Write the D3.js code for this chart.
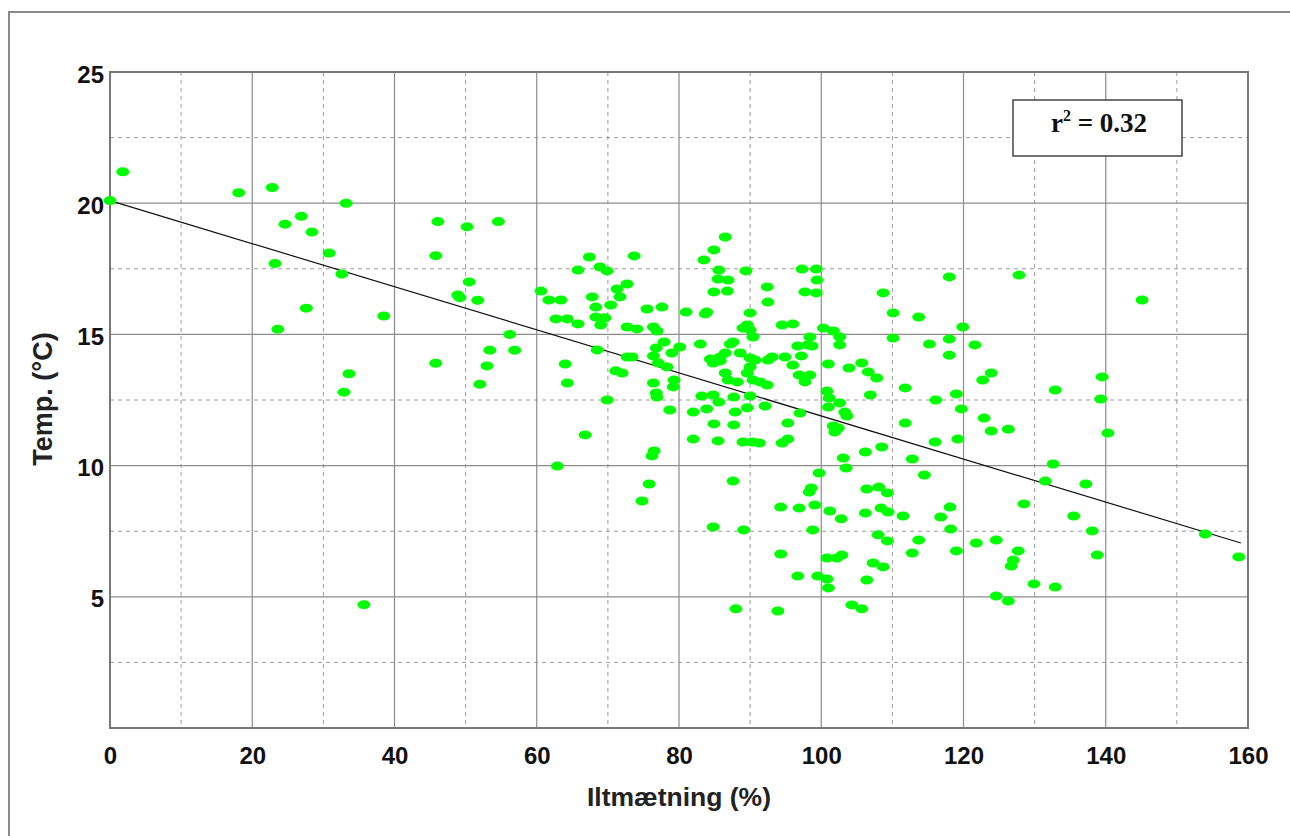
<!DOCTYPE html>
<html>
<head>
<meta charset="utf-8">
<script src="https://cdn.jsdelivr.net/npm/d3@7"></script>
<style>
  html, body { margin: 0; padding: 0; background: #fff; }
  svg { display: block; }
</style>
</head>
<body>
<svg id="chart" width="1290" height="836"></svg>
<script>
// ---- data ----
const xTicks = [0, 20, 40, 60, 80, 100, 120, 140, 160];
const xMinorTicks = [10, 30, 50, 70, 90, 110, 130, 150];
const yTicks = [5, 10, 15, 20, 25];
const yMinorTicks = [2.5, 7.5, 12.5, 17.5, 22.5];
const xTitle = "Iltmætning (%)";
const yTitle = "Temp. (°C)";
const rSquared = "0.32";
// regression line end points [Iltmætning, Temp]
const fitLine = [[0, 20.1], [159, 7.05]];
// samples: [Iltmætning %, Temp °C]
const samples = [
  [0,20.1],[1.8,21.2],[18.1,20.4],[22.8,20.6],[33.2,20.0],[26.9,19.5],[24.6,19.2],[28.4,18.9],[30.8,18.1],[23.2,17.7],
  [32.6,17.3],[46.1,19.3],[50.2,19.1],[54.6,19.3],[45.8,18.0],[50.5,17.0],[48.9,16.5],[49.2,16.4],[51.7,16.3],[27.6,16.0],
  [23.6,15.2],[38.5,15.7],[56.2,15.0],[53.4,14.4],[56.9,14.4],[45.8,13.9],[53.0,13.8],[52.0,13.1],[33.6,13.5],[32.9,12.8],
  [35.7,4.7],
  [60.6,16.65],[61.7,16.31],[63.4,16.31],[62.7,15.59],[64.3,15.59],[65.8,15.40],[67.4,17.95],[65.8,17.45],[68.9,17.57],[69.9,17.42],
  [67.8,16.43],[71.3,16.73],[72.7,16.92],[71.7,16.43],[68.3,16.04],[70.4,16.12],[68.3,15.66],[69.6,15.63],[69.0,15.36],[72.7,15.28],
  [74.1,15.21],[73.7,17.99],[75.5,15.97],[77.6,16.04],[81.0,15.85],[76.4,15.28],[76.9,15.13],[77.9,14.71],[76.8,14.48],[80.1,14.52],
  [79.0,14.29],[76.4,14.18],[77.1,13.91],[78.3,13.76],[68.5,14.41],[64.0,13.87],[64.3,13.15],[69.9,12.50],[71.1,13.61],[72.0,13.53],
  [72.7,14.14],[73.4,14.14],[76.4,13.15],[76.8,12.77],[76.9,12.61],[79.3,13.26],[79.2,13.00],[78.7,12.12],[82.0,12.04],[66.8,11.17],
  [62.9,9.98],[82.0,11.01],[76.5,10.56],[76.2,10.37],[75.8,9.30],[74.8,8.65],
  [83.5,17.84],[84.9,18.22],[86.5,18.71],[85.6,17.45],[85.5,17.11],[86.9,17.07],[84.9,16.62],[86.8,16.65],[89.4,17.42],[92.4,16.81],
  [92.5,16.23],[83.9,15.85],[83.7,15.78],[90.0,15.82],[89.6,15.36],[90.0,15.17],[90.4,14.90],[89.0,15.24],[87.6,14.71],[87.2,14.63],
  [83.0,14.63],[88.6,14.29],[90.0,14.10],[90.7,14.02],[93.1,14.14],[92.5,14.02],[86.5,14.29],[85.8,14.14],[84.4,14.06],[84.8,13.91],
  [85.8,13.99],[86.5,13.53],[86.9,13.26],[88.2,13.19],[89.6,13.53],[90.0,13.76],[90.4,13.26],[91.4,13.19],[92.4,13.07],[83.2,12.65],
  [84.8,12.69],[85.6,12.42],[83.9,12.16],[87.7,12.61],[87.9,12.04],[90.0,12.65],[89.6,12.20],[92.1,12.27],[84.9,11.59],[87.7,11.55],
  [85.5,10.94],[89.0,10.90],[90.3,10.90],[91.3,10.86],[87.6,9.41],[84.8,7.66],[89.1,7.55],[88.0,4.54],[93.9,4.46],
  [94.5,15.36],[96.0,15.40],[97.3,17.49],[99.3,17.49],[99.4,17.07],[97.7,16.62],[99.3,16.58],[94.9,14.14],[96.0,13.83],[97.2,14.18],
  [96.9,13.45],[97.6,13.38],[98.4,13.45],[97.7,13.19],[96.7,14.56],[98.4,14.90],[98.1,14.60],[98.7,14.56],[100.3,15.24],[101.7,15.13],
  [102.6,14.90],[102.6,14.60],[101.0,13.87],[103.9,13.72],[105.7,13.91],[106.6,13.57],[107.8,13.34],[108.7,16.58],[110.1,15.82],[110.1,14.86],
  [100.8,12.84],[101.1,12.58],[101.0,12.23],[102.6,12.39],[103.3,12.04],[103.6,11.89],[106.9,12.69],[97.0,12.00],[95.3,11.62],[94.5,10.86],
  [95.3,11.01],[101.7,11.51],[102.4,11.43],[101.9,11.28],[106.2,10.52],[108.5,10.71],[103.1,10.29],[103.5,9.91],[99.7,9.72],[98.6,9.15],
  [98.3,8.99],[106.4,9.11],[108.1,9.18],[109.3,8.96],[94.3,8.42],[96.9,8.38],[99.1,8.50],[101.2,8.27],[102.8,7.97],[98.8,7.55],
  [106.2,8.19],[108.4,8.38],[109.4,8.23],[108.0,7.36],[109.3,7.13],[94.3,6.63],[100.8,6.48],[102.2,6.48],[102.9,6.59],[96.7,5.79],
  [99.5,5.79],[100.8,5.68],[101.0,5.34],[106.4,5.64],[107.3,6.29],[108.7,6.14],[104.3,4.69],[105.7,4.54],
  [113.7,15.66],[119.9,15.28],[115.2,14.63],[118.0,14.82],[121.6,14.60],[118.0,14.21],[118.0,17.19],[127.8,17.26],[145.1,16.31],[111.8,12.96],
  [116.1,12.50],[119.0,12.73],[119.7,12.16],[123.9,13.53],[122.7,13.26],[132.9,12.88],[139.5,13.38],[139.3,12.54],[140.3,11.24],[111.8,11.62],
  [116.0,10.90],[119.2,11.01],[122.9,11.81],[123.9,11.32],[126.3,11.39],[112.8,10.25],[114.5,9.64],[132.6,10.06],[131.5,9.41],[137.2,9.30],
  [128.5,8.54],[111.5,8.08],[118.1,8.42],[116.8,8.04],[118.2,7.58],[135.5,8.08],[138.1,7.51],[154.0,7.39],[158.7,6.52],[113.7,7.16],
  [112.8,6.67],[119.0,6.75],[121.8,7.05],[124.6,7.16],[127.7,6.75],[127.0,6.40],[126.7,6.17],[138.8,6.59],[129.9,5.49],[132.9,5.37],
  [124.6,5.03],[126.3,4.84]
];

// ---- layout ----
const svg = d3.select("#chart");
const L = 110, R = 1248, T = 72, B = 728;
const x = d3.scaleLinear().domain([0, 160]).range([L, R]);
const y = d3.scaleLinear().domain([0, 25]).range([B, T]);

// outer frame
svg.append("rect").attr("x", 9).attr("y", 12).attr("width", 1300).attr("height", 840)
  .attr("fill", "none").attr("stroke", "#8a8a8a").attr("stroke-width", 2);

// minor dashed grid
svg.append("g").selectAll("line").data(xMinorTicks).join("line")
  .attr("x1", d => x(d)).attr("x2", d => x(d)).attr("y1", T).attr("y2", B)
  .attr("stroke", "#9a9a9a").attr("stroke-width", 1).attr("stroke-dasharray", "4,4");
svg.append("g").selectAll("line").data(yMinorTicks).join("line")
  .attr("y1", d => y(d)).attr("y2", d => y(d)).attr("x1", L).attr("x2", R)
  .attr("stroke", "#9a9a9a").attr("stroke-width", 1).attr("stroke-dasharray", "4,4");

// major solid grid
svg.append("g").selectAll("line").data(xTicks.slice(1, -1)).join("line")
  .attr("x1", d => x(d)).attr("x2", d => x(d)).attr("y1", T).attr("y2", B)
  .attr("stroke", "#8c8c8c").attr("stroke-width", 1.2);
svg.append("g").selectAll("line").data(yTicks.slice(0, -1)).join("line")
  .attr("y1", d => y(d)).attr("y2", d => y(d)).attr("x1", L).attr("x2", R)
  .attr("stroke", "#8c8c8c").attr("stroke-width", 1.2);

// plot frame
svg.append("rect").attr("x", L).attr("y", T).attr("width", R - L).attr("height", B - T)
  .attr("fill", "none").attr("stroke", "#777").attr("stroke-width", 2);

// axes (labels via d3 axis, domain/ticks hidden)
const xAxis = svg.append("g").attr("transform", `translate(0,${B})`)
  .call(d3.axisBottom(x).tickValues(xTicks).tickSize(0).tickPadding(19).tickFormat(d3.format("d")));
const yAxis = svg.append("g").attr("transform", `translate(${L},0)`)
  .call(d3.axisLeft(y).tickValues(yTicks).tickSize(0).tickPadding(6).tickFormat(d3.format("d")));
[xAxis, yAxis].forEach(g => {
  g.select(".domain").remove();
  g.selectAll("text").attr("font-family", "Liberation Sans, Arial, sans-serif")
    .attr("font-weight", "bold").attr("font-size", 24).attr("fill", "#111");
});
yAxis.selectAll("text").attr("dy", "0.42em");

// regression line
svg.append("path").datum(fitLine)
  .attr("d", d3.line().x(d => x(d[0])).y(d => y(d[1])))
  .attr("fill", "none").attr("stroke", "#111").attr("stroke-width", 1.2);

// points
svg.append("g").selectAll("ellipse").data(samples).join("ellipse")
  .attr("cx", d => x(d[0])).attr("cy", d => y(d[1]))
  .attr("rx", 6.5).attr("ry", 4.5).attr("fill", "#00ff00");

// axis titles
svg.append("text").attr("x", 679).attr("y", 806).attr("text-anchor", "middle")
  .attr("font-family", "Liberation Sans, Arial, sans-serif").attr("font-weight", "bold")
  .attr("font-size", 26.5).attr("fill", "#222").text(xTitle);
svg.append("text").attr("transform", "translate(52,399) rotate(-90)").attr("text-anchor", "middle")
  .attr("font-family", "Liberation Sans, Arial, sans-serif").attr("font-weight", "bold")
  .attr("font-size", 27).attr("fill", "#222").text(yTitle);

// r² box
svg.append("rect").attr("x", 1013).attr("y", 100).attr("width", 169).attr("height", 56)
  .attr("fill", "#fff").attr("stroke", "#444").attr("stroke-width", 1.5);
const rt = svg.append("text").attr("x", 1099).attr("y", 132).attr("text-anchor", "middle")
  .attr("font-family", "Liberation Serif, Times New Roman, serif").attr("font-weight", "bold")
  .attr("font-size", 27).attr("fill", "#111");
rt.append("tspan").text("r");
rt.append("tspan").attr("dy", -11).attr("font-size", 16).text("2");
rt.append("tspan").attr("dy", 11).text(" = " + rSquared);
</script>
</body>
</html>
